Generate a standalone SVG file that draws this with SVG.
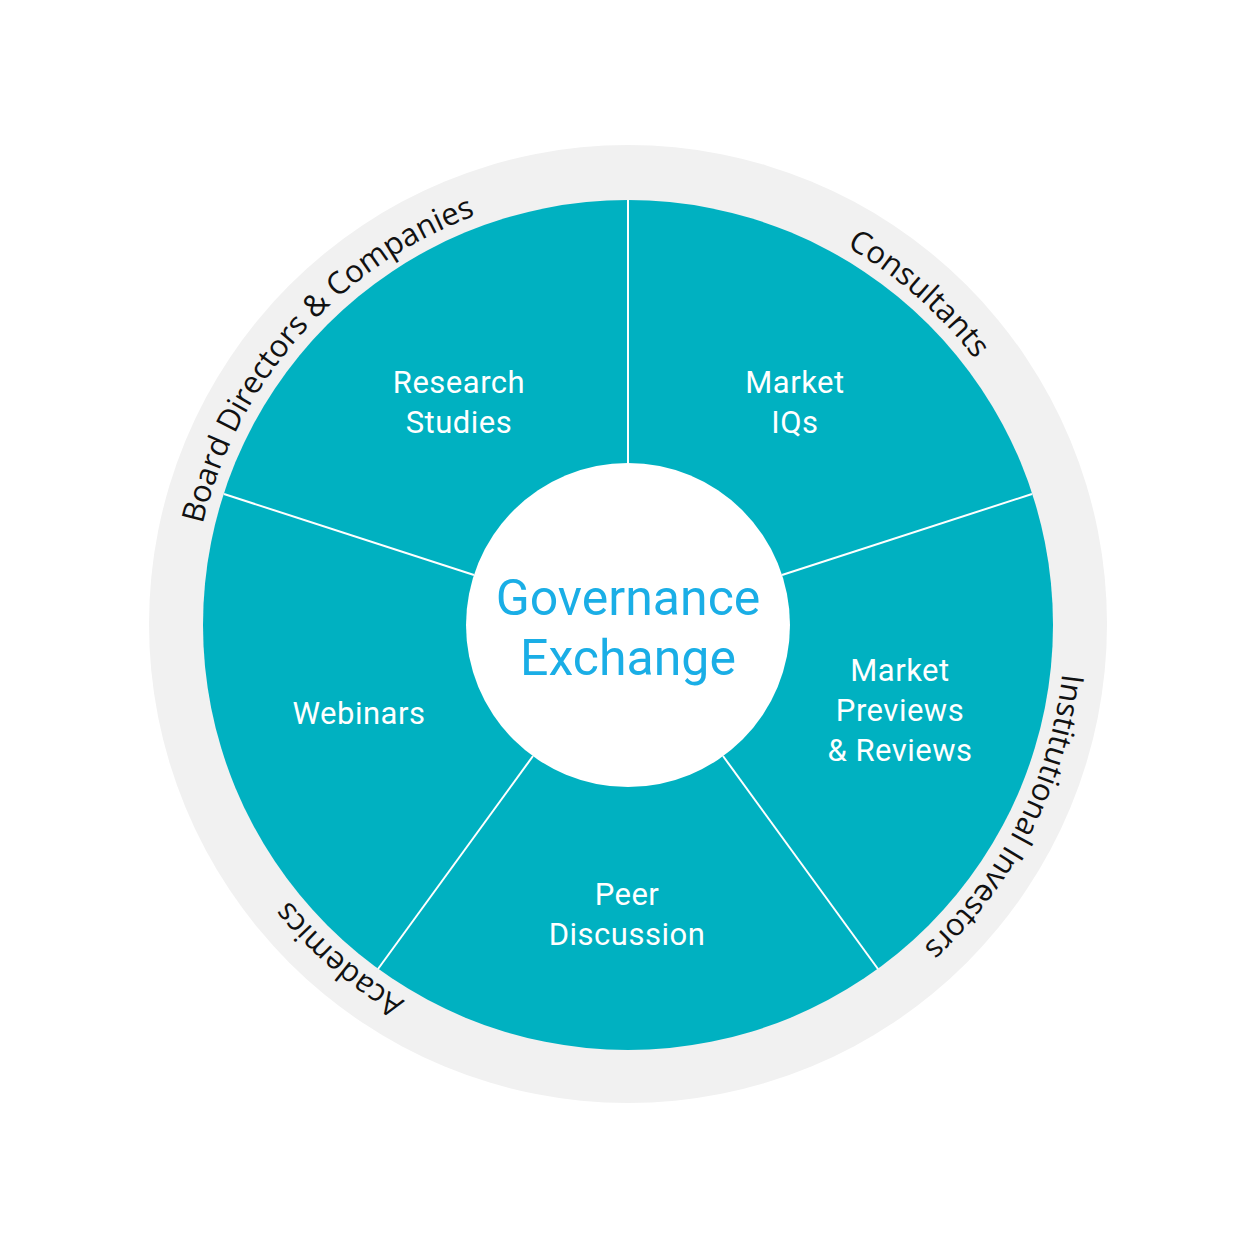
<svg xmlns="http://www.w3.org/2000/svg" xmlns:xlink="http://www.w3.org/1999/xlink" width="1254" height="1253" viewBox="0 0 1254 1253">
<style>
.lbl{font-family:Roboto,"Liberation Sans",sans-serif;font-size:31px;fill:#fff;text-anchor:middle;letter-spacing:0.5px}
.ring{font-family:"Open Sans","Liberation Sans",sans-serif;font-size:31px;fill:#111;text-anchor:middle}
.div{stroke:#fff;stroke-width:2}
</style>
<defs>
<path id="rp" d="M191,625 A437,437 0 1 1 1065,625 A437,437 0 1 1 191,625"/>
</defs>
<rect width="1254" height="1253" fill="#fff"/>
<g id="outer-ring">
<circle cx="628" cy="624" r="479" fill="#f1f1f1"/>
<text class="ring"><textPath xlink:href="#rp" startOffset="316">Board Directors &amp; Companies</textPath></text>
<text class="ring"><textPath xlink:href="#rp" startOffset="1001">Consultants</textPath></text>
<text class="ring"><textPath xlink:href="#rp" startOffset="1578">Institutional Investors</textPath></text>
<text class="ring"><textPath xlink:href="#rp" startOffset="2370">Academics</textPath></text>
</g>
<g id="wheel">
<circle cx="628" cy="625" r="425" fill="#00b1c1"/>
</g>
<g id="connectors">
<line class="div" x1="628" y1="200" x2="628" y2="463"/>
<line class="div" x1="1032" y1="494" x2="782" y2="575"/>
<line class="div" x1="878" y1="969" x2="723" y2="756"/>
<line class="div" x1="378" y1="969" x2="533" y2="756"/>
<line class="div" x1="224" y1="494" x2="474" y2="575"/>
</g>
<g id="research"><text class="lbl" x="459" y="393">Research</text><text class="lbl" x="459" y="433">Studies</text></g>
<g id="marketiq"><text class="lbl" x="795" y="393">Market</text><text class="lbl" x="795" y="433">IQs</text></g>
<g id="previews"><text class="lbl" x="900" y="681">Market</text><text class="lbl" x="900" y="721">Previews</text><text class="lbl" x="900" y="761">&amp; Reviews</text></g>
<g id="peer"><text class="lbl" x="627" y="905">Peer</text><text class="lbl" x="627" y="945">Discussion</text></g>
<g id="webinars"><text class="lbl" x="359" y="724">Webinars</text></g>
<g id="center">
<circle cx="628" cy="625" r="162" fill="#fff"/>
<text x="628" y="615" font-family="Roboto,'Liberation Sans',sans-serif" font-size="50" fill="#1aaee6" text-anchor="middle">Governance</text>
<text x="628" y="675" font-family="Roboto,'Liberation Sans',sans-serif" font-size="50" fill="#1aaee6" text-anchor="middle">Exchange</text>
</g>
</svg>
